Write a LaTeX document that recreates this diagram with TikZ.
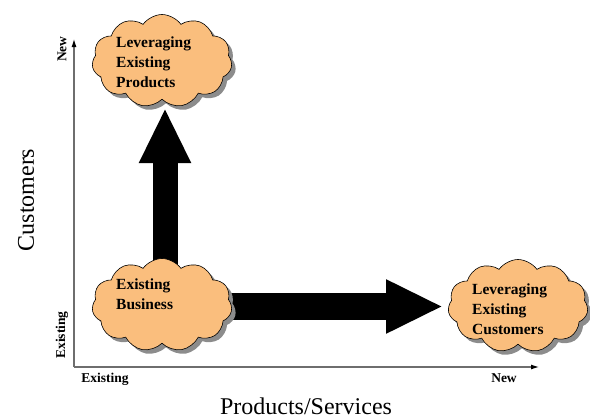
\documentclass[tikz,border=0pt]{standalone}
\usepackage{fontspec}
\setmainfont{Liberation Serif}
\usetikzlibrary{shapes.symbols,shadows,arrows.meta,backgrounds}
\definecolor{puff}{RGB}{250,190,125}
\definecolor{axisgray}{RGB}{110,110,110}
\begin{document}
\begin{tikzpicture}[x=1pt,y=-1pt,
  cloudbox/.style={cloud, cloud puffs=11, cloud puff arc=110, cloud ignores aspect,
    minimum width=140pt, minimum height=93pt, inner sep=0pt,
    draw=black, line width=0.6pt, fill=puff,
    drop shadow={shadow xshift=4pt, shadow yshift=-4pt, opacity=1, fill=black!45}},
  cloudtext/.style={font=\fontsize{15.5}{20}\selectfont\bfseries, align=left, anchor=west, inner sep=0pt},
  axislabel/.style={font=\fontsize{13.5}{15}\selectfont\bfseries, inner sep=0pt},
  bigtitle/.style={font=\fontsize{24}{28}\selectfont, inner sep=0pt},
  axisline/.style={draw=axisgray, line width=1.1pt, -{Latex[length=8pt,width=5pt,fill=black,color=black]}},
  fatarrow/.style={draw=black, line cap=butt}
]
\useasboundingbox (0,0) rectangle (590,418);

% axes
\coordinate (origin) at (74,367);
\coordinate (ytip) at (74,39);
\coordinate (xtip) at (539,367);
\draw[axisline] (origin) -- (ytip);
\draw[axisline] (origin) -- (xtip);

% clouds
\node[cloudbox] (prod) at (162,61) {};
\node[cloudbox] (base) at (162,305) {};
\node[cloudbox] (cust) at (518,306) {};

% thick arrows behind the clouds
\begin{scope}[on background layer]
  \coordinate (vstart) at ([xshift=3pt]base.center);
  \coordinate (vend) at (165,108);
  \draw[fatarrow, line width=25pt, -{Triangle[width=48pt,length=55pt]}] (vstart) -- (vend);
  \coordinate (hstart) at ([yshift=-1.5pt]base.center);
  \coordinate (hend) at (443,306.5);
  \draw[fatarrow, line width=27pt, -{Triangle[width=50pt,length=57pt]}] (hstart) -- (hend);
\end{scope}

% cloud texts
\node[cloudtext] (prodtext) at (116,62) {Leveraging\\Existing\\Products};
\node[cloudtext] (basetext) at (116,294.5) {Existing\\Business};
\node[cloudtext] (custtext) at (472,309) {Leveraging\\Existing\\Customers};

% axis labels
\node[axislabel, rotate=90] (ynew) at (62,49) {New};
\node[axislabel, rotate=90] (yexist) at (62,335) {Existing};
\node[axislabel] (xexist) at (105,379) {Existing};
\node[axislabel] (xnew) at (504,378) {New};

% axis titles
\node[bigtitle, rotate=90] (ytitle) at (26,200) {Customers};
\node[bigtitle] (xtitle) at (306,406) {Products/Services};
\end{tikzpicture}
\end{document}
